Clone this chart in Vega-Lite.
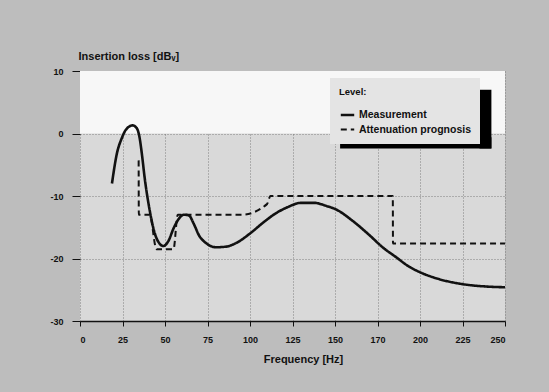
{
  "$schema": "https://vega.github.io/schema/vega-lite/v6.json",
  "width": 425,
  "height": 250,
  "autosize": {"type": "none"},
  "padding": {"left": 80, "top": 71, "right": 44, "bottom": 71},
  "background": "#bdbdbd",
  "view": {"fill": "#d9d9d9", "stroke": null},
  "config": {
    "font": "Liberation Sans",
    "axis": {
      "labelFont": "Liberation Sans", "labelFontWeight": "bold", "labelFontSize": 9, "labelColor": "#111",
      "titleFont": "Liberation Sans", "titleFontWeight": "bold", "titleFontSize": 11, "titleColor": "#111",
      "grid": true, "gridColor": "#6a6a6a", "gridDash": [1, 2], "gridWidth": 1, "gridOpacity": 0.8,
      "tickColor": "#111", "zindex": 1
    },
    "legend": {
      "titleFont": "Liberation Sans", "labelFont": "Liberation Sans",
      "titleFontWeight": "bold", "labelFontWeight": "bold", "titleFontSize": 9.5, "labelFontSize": 10.5,
      "titleColor": "#111", "labelColor": "#111"
    }
  },
  "datasets": {
    "curves": [
      {"series": "Measurement", "f": 18.8, "db": -8.0},
      {"series": "Measurement", "f": 21.7, "db": -3.2},
      {"series": "Measurement", "f": 24.5, "db": -0.8},
      {"series": "Measurement", "f": 27, "db": 0.6},
      {"series": "Measurement", "f": 31, "db": 1.3},
      {"series": "Measurement", "f": 33.5, "db": 0.8},
      {"series": "Measurement", "f": 35, "db": -0.6},
      {"series": "Measurement", "f": 36.5, "db": -3.5},
      {"series": "Measurement", "f": 38, "db": -7},
      {"series": "Measurement", "f": 41, "db": -12.3},
      {"series": "Measurement", "f": 44, "db": -16},
      {"series": "Measurement", "f": 46.5, "db": -17.5},
      {"series": "Measurement", "f": 49, "db": -18},
      {"series": "Measurement", "f": 52, "db": -17.2},
      {"series": "Measurement", "f": 55, "db": -15.2},
      {"series": "Measurement", "f": 58, "db": -13.7},
      {"series": "Measurement", "f": 61, "db": -13},
      {"series": "Measurement", "f": 64, "db": -13.1},
      {"series": "Measurement", "f": 67, "db": -14.5},
      {"series": "Measurement", "f": 70, "db": -16.3},
      {"series": "Measurement", "f": 74, "db": -17.5},
      {"series": "Measurement", "f": 80, "db": -18.2},
      {"series": "Measurement", "f": 86, "db": -18.1},
      {"series": "Measurement", "f": 92, "db": -17.5},
      {"series": "Measurement", "f": 100, "db": -16},
      {"series": "Measurement", "f": 108, "db": -14.2},
      {"series": "Measurement", "f": 115, "db": -12.8},
      {"series": "Measurement", "f": 122, "db": -11.8},
      {"series": "Measurement", "f": 130, "db": -11.1},
      {"series": "Measurement", "f": 138, "db": -11.1},
      {"series": "Measurement", "f": 145, "db": -11.6},
      {"series": "Measurement", "f": 151, "db": -12.2},
      {"series": "Measurement", "f": 160, "db": -13.9},
      {"series": "Measurement", "f": 170, "db": -16.2},
      {"series": "Measurement", "f": 178, "db": -18.2},
      {"series": "Measurement", "f": 186, "db": -19.8},
      {"series": "Measurement", "f": 193, "db": -21.2},
      {"series": "Measurement", "f": 200, "db": -22.2},
      {"series": "Measurement", "f": 210, "db": -23.2},
      {"series": "Measurement", "f": 225, "db": -24.1},
      {"series": "Measurement", "f": 240, "db": -24.5},
      {"series": "Measurement", "f": 250, "db": -24.6},
      {"series": "Attenuation prognosis", "f": 34.5, "db": -4.3},
      {"series": "Attenuation prognosis", "f": 34.6, "db": -13},
      {"series": "Attenuation prognosis", "f": 41, "db": -13},
      {"series": "Attenuation prognosis", "f": 45, "db": -18.5},
      {"series": "Attenuation prognosis", "f": 55, "db": -18.5},
      {"series": "Attenuation prognosis", "f": 57.5, "db": -13},
      {"series": "Attenuation prognosis", "f": 95, "db": -13},
      {"series": "Attenuation prognosis", "f": 110, "db": -11.3},
      {"series": "Attenuation prognosis", "f": 112, "db": -10},
      {"series": "Attenuation prognosis", "f": 184, "db": -10},
      {"series": "Attenuation prognosis", "f": 184.1, "db": -17.6},
      {"series": "Attenuation prognosis", "f": 250, "db": -17.6}
    ]
  },
  "layer": [
    {
      "data": {"values": [{}]},
      "mark": {"type": "rect", "color": "#f7f7f7"},
      "encoding": {
        "x": {"datum": 0, "type": "quantitative", "scale": {"domain": [0, 250], "nice": false}},
        "x2": {"datum": 250},
        "y": {"datum": 10, "type": "quantitative", "scale": {"domain": [-30, 10], "nice": false}},
        "y2": {"datum": 0}
      }
    },
    {
      "data": {"values": [{}]},
      "mark": {"type": "rect", "color": "#000"},
      "encoding": {
        "x": {"datum": 235, "type": "quantitative"},
        "x2": {"datum": 242},
        "y": {"datum": 7.0, "type": "quantitative"},
        "y2": {"datum": -2.4}
      }
    },
    {
      "data": {"values": [{}]},
      "mark": {"type": "rect", "color": "#000"},
      "encoding": {
        "x": {"datum": 153, "type": "quantitative"},
        "x2": {"datum": 242},
        "y": {"datum": -0.6, "type": "quantitative"},
        "y2": {"datum": -2.4}
      }
    },
    {
      "data": {"name": "curves"},
      "mark": {"type": "line", "interpolate": "monotone"},
      "encoding": {
        "x": {
          "field": "f", "type": "quantitative",
          "scale": {"domain": [0, 250], "nice": false},
          "axis": {
            "grid": true,
            "values": [0, 25, 50, 75, 100, 125, 150, 175, 200, 225, 250],
            "labelExpr": "datum.value == 175 ? '170' : '' + datum.value",
            "title": "Frequency [Hz]",
            "titleX": 223, "titleY": 41, "titleBaseline": "alphabetic",
            "tickSize": 5, "labelPadding": 9,
            "domainColor": "#111", "domainWidth": 1.5
          }
        },
        "y": {
          "field": "db", "type": "quantitative",
          "scale": {"domain": [-30, 10], "nice": false},
          "axis": {
            "grid": true,
            "values": [-30, -20, -10, 0, 10],
            "labelExpr": "'' + datum.value",
            "title": "Insertion loss [dBᵥ]",
            "titleAngle": 0, "titleAlign": "left", "titleBaseline": "alphabetic",
            "titleX": -2, "titleY": -12,
            "tickSize": 8, "labelPadding": 9, "domain": false
          }
        },
        "color": {
          "field": "series", "type": "nominal",
          "scale": {"domain": ["Measurement", "Attenuation prognosis"], "range": ["#111", "#111"]},
          "legend": {
            "title": "Level:", "orient": "none", "legendX": 250, "legendY": 7,
            "symbolType": "stroke", "symbolSize": 180, "symbolStrokeWidth": 2,
            "fillColor": "#e4e4e4", "padding": 9, "rowPadding": 1, "titlePadding": 10,
            "labelOffset": 3, "symbolOffset": 0
          }
        },
        "strokeDash": {
          "field": "series", "type": "nominal",
          "scale": {"domain": ["Measurement", "Attenuation prognosis"], "range": [[1, 0], [6, 4]]},
          "legend": {"title": "Level:"}
        },
        "strokeWidth": {
          "field": "series", "type": "nominal",
          "scale": {"domain": ["Measurement", "Attenuation prognosis"], "range": [2.6, 2]},
          "legend": null
        }
      }
    }
  ]
}
